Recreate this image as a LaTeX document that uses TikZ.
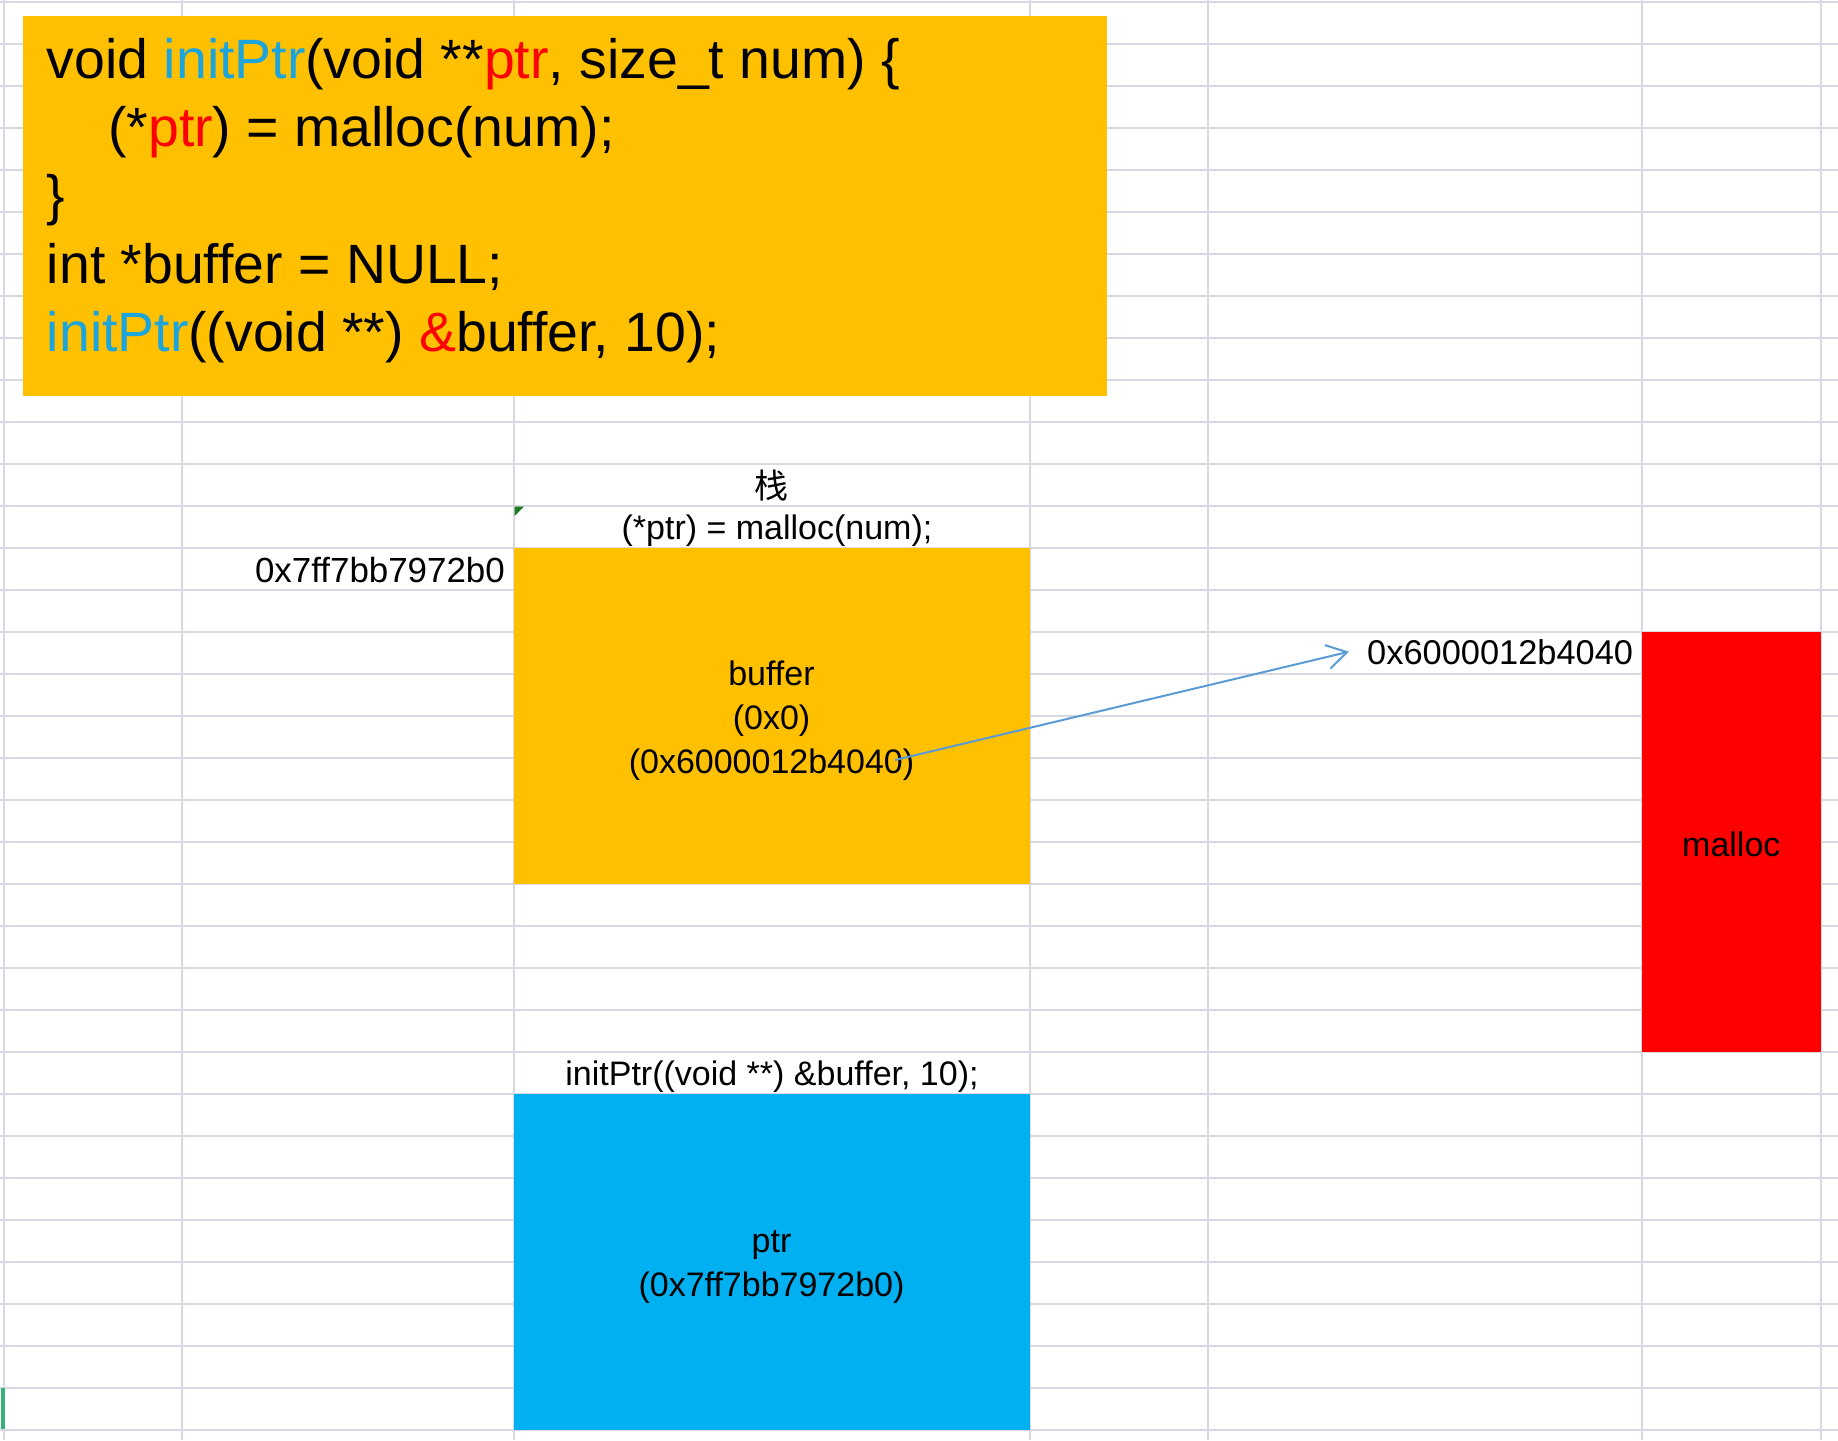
\documentclass[tikz,border=0pt]{standalone}
\usepackage{fontspec}
\setmainfont{Liberation Sans}
\newfontfamily\cjkfont{Noto Sans CJK SC}
\usetikzlibrary{arrows.meta}
\definecolor{gridc}{HTML}{D6D9E1}
\definecolor{boxorange}{HTML}{FFC000}
\definecolor{boxblue}{HTML}{00B0F0}
\definecolor{boxred}{HTML}{FF0000}
\definecolor{kwblue}{HTML}{1BA5DC}
\definecolor{kwred}{HTML}{FF0000}
\definecolor{arrowblue}{HTML}{5B9BD5}
\definecolor{markgreen}{HTML}{1E7B22}
\definecolor{selgreen}{HTML}{38B07A}
\begin{document}
\begin{tikzpicture}[x=1pt,y=-1pt,
  gridline/.style={draw=gridc, line width=2pt},
  cellbox/.style={rectangle, inner sep=0pt, outer sep=0pt, draw=none},
  codeline/.style={anchor=base west, inner sep=0pt, font=\fontsize{55.4}{68}\selectfont},
  lbl/.style={inner sep=0pt, font=\fontsize{34}{44}\selectfont, align=center},
  ptrarrow/.style={draw=arrowblue, line width=2pt, -{Straight Barb[length=20pt,width=24pt]}}
]
\useasboundingbox (0,0) rectangle (1838,1440);
\fill[white] (0,0) rectangle (1838,1440);
% spreadsheet grid
\foreach \k in {0,...,34}
  \draw[gridline] (0,{1.5+42*\k}) -- (1838,{1.5+42*\k});
\foreach \gx in {3.8,181.8,514,1030,1208,1642,1820.6}
  \draw[gridline] (\gx,0) -- (\gx,1440);

% code box
\node[cellbox, fill=boxorange, minimum width=1084pt, minimum height=380pt] (codebox) at (565,206) {};
\node[codeline] (code1) at (46.7,78) {void \textcolor{kwblue}{initPtr}(void **\textcolor{kwred}{ptr}, size\_t num) \{};
\node[codeline] (code2) at (108,146.3) {(*\textcolor{kwred}{ptr}) = malloc(num);};
\node[codeline] (code3) at (46.7,214.6) {\}};
\node[codeline] (code4) at (46.7,283) {int *buffer = NULL;};
\node[codeline] (code5) at (46.7,351.3) {\textcolor{kwblue}{initPtr}((void **) \textcolor{kwred}{\&}buffer, 10);};

% stack labels
\node[lbl] (stacklbl) at (771,486) {\cjkfont 栈};
\node[lbl, anchor=base] (malloccall) at (777,539) {(*ptr) = malloc(num);};
\fill[markgreen] (514.5,506.5) -- (524,506.5) -- (514.5,516) -- cycle;
\node[lbl, anchor=base east, font=\fontsize{34.9}{44}\selectfont] (addr1) at (505,582) {0x7ff7bb7972b0};

% buffer cell
\node[cellbox, fill=boxorange, minimum width=516.5pt, minimum height=336pt] (bufbox) at (771.75,715.5) {};
\node[lbl] (buftext) at (771.5,720.5) {buffer\\(0x0)\\(0x6000012b4040)};

% ptr cell
\node[lbl, anchor=base] (initcall) at (772,1085) {initPtr((void **) \&buffer, 10);};
\node[cellbox, fill=boxblue, minimum width=516.5pt, minimum height=336pt] (ptrbox) at (771.75,1261.5) {};
\node[lbl] (ptrtext) at (771.5,1267.5) {ptr\\(0x7ff7bb7972b0)};

% heap
\node[cellbox, fill=boxred, minimum width=178.6pt, minimum height=420pt] (mallocbox) at (1731.3,841.5) {};
\node[lbl] (malloctext) at (1731.3,844) {malloc};
\node[lbl, anchor=base west, inner xsep=18pt, font=\fontsize{34.4}{44}\selectfont] (addr2) at (1349,664) {0x6000012b4040};

% pointer arrow
\coordinate (arrstart) at (895,760);
\draw[ptrarrow] (arrstart) -- (addr2.west);

% selection mark
\fill[selgreen] (0.5,1388) rectangle (4.5,1429);
\end{tikzpicture}
\end{document}
